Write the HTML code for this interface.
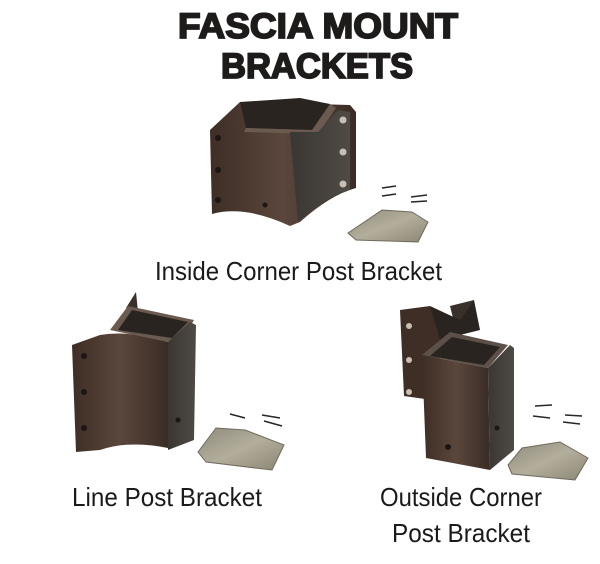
<!DOCTYPE html>
<html><head><style>
html,body{margin:0;padding:0;background:#fff;width:600px;height:564px;overflow:hidden}
svg{display:block}
.t{font-family:"Liberation Sans",Arial,sans-serif;font-weight:bold;font-size:35px;fill:#1e1b1b;stroke:#1e1b1b;stroke-width:1.8}
.l{font-family:"Liberation Sans Narrow","Liberation Sans",Arial,sans-serif;font-size:26px;fill:#1a1a1a}
</style></head><body>
<svg width="600" height="564" viewBox="0 0 600 564" xmlns="http://www.w3.org/2000/svg">
<defs>
<linearGradient id="br" x1="0" x2="1"><stop offset="0" stop-color="#3e2e26"/><stop offset=".5" stop-color="#5a463c"/><stop offset="1" stop-color="#3a2c25"/></linearGradient>
<linearGradient id="sd" x1="0" x2="1"><stop offset="0" stop-color="#3a3632"/><stop offset="1" stop-color="#4f4a44"/></linearGradient>
<linearGradient id="pl" x1="0" y1="0" x2="1" y2="1"><stop offset="0" stop-color="#8e8a7a"/><stop offset=".5" stop-color="#b3ae9c"/><stop offset="1" stop-color="#8b8574"/></linearGradient>
</defs>
<text class="t" x="178" y="38" textLength="280" lengthAdjust="spacingAndGlyphs">FASCIA MOUNT</text>
<text class="t" x="221" y="78" textLength="192" lengthAdjust="spacingAndGlyphs">BRACKETS</text>

<!-- Inside corner -->
<g>
<path d="M210 130 L240 102 L350 105 L356 112 L356 188 Q330 195 300 222 L290 226 Q245 205 212 214 Z" fill="url(#br)"/>
<path d="M240 102 L300 98 L330 104 L312 130 L246 128 Z" fill="#2a2420"/>
<path d="M246 128 L312 130 L330 104 L336 108 L318 134 L244 132 Z" fill="#6a5a50"/>
<path d="M290 132 L318 132 L338 110 L350 112 L350 190 Q320 200 298 222 Z" fill="url(#sd)"/>
<circle cx="218" cy="138" r="3" fill="#1c1614"/><circle cx="218" cy="170" r="3" fill="#1c1614"/><circle cx="218" cy="200" r="3" fill="#1c1614"/>
<circle cx="343" cy="120" r="3.5" fill="#c9c0b4"/><circle cx="343" cy="152" r="3.5" fill="#c9c0b4"/><circle cx="343" cy="184" r="3.5" fill="#c9c0b4"/>
<circle cx="265" cy="205" r="2.5" fill="#1c1614"/>
<path d="M348 233 L382 210 L412 212 L428 222 L418 242 L356 240 Z" fill="url(#pl)" stroke="#6f6a5c" stroke-width="1"/>
<g stroke="#2a2624" stroke-width="1.6"><line x1="382" y1="188" x2="396" y2="186"/><line x1="382" y1="196" x2="396" y2="194"/><line x1="411" y1="197" x2="427" y2="195"/><line x1="411" y1="202" x2="427" y2="201"/></g>
</g>
<text class="l" x="155" y="280" textLength="287" lengthAdjust="spacingAndGlyphs">Inside Corner Post Bracket</text>

<!-- Line post -->
<g>
<path d="M126 308 L136 292 L138 312 Z" fill="#3a302a"/>
<path d="M72 345 L100 335 Q130 330 168 342 L168 448 Q130 440 100 450 L76 452 Z" fill="url(#br)"/>
<path d="M110 330 L128 306 L194 320 L188 330 L168 342 Z" fill="#6a5a50"/>
<path d="M118 330 L132 310 L188 322 L172 338 Z" fill="#2a2420"/>
<path d="M168 342 L190 322 L196 325 L194 440 L168 450 Z" fill="url(#sd)"/>
<circle cx="84" cy="356" r="3" fill="#1c1614"/><circle cx="84" cy="392" r="3" fill="#1c1614"/><circle cx="84" cy="428" r="3" fill="#1c1614"/>
<circle cx="178" cy="420" r="2.5" fill="#1c1614"/>
<path d="M198 452 L216 428 L245 430 L284 445 L272 470 L206 462 Z" fill="url(#pl)" stroke="#6f6a5c" stroke-width="1"/>
<g stroke="#2a2624" stroke-width="1.6"><line x1="230" y1="414" x2="245" y2="418"/><line x1="262" y1="415" x2="280" y2="418"/><line x1="264" y1="421" x2="282" y2="426"/></g>
</g>
<text class="l" x="72" y="506" textLength="190" lengthAdjust="spacingAndGlyphs">Line Post Bracket</text>

<!-- Outside corner -->
<g>
<path d="M400 310 L430 306 Q440 320 445 330 L432 400 L404 396 Z" fill="#3e2e26"/>
<path d="M450 306 L474 300 L476 330 L456 330 Z" fill="#3a302a"/>
<path d="M430 306 L460 320 L474 300 L480 330 L440 340 Z" fill="#2a2420"/>
<path d="M422 355 L450 332 L508 345 L488 368 Z" fill="#5c5048"/>
<path d="M430 356 L452 337 L500 347 L484 365 Z" fill="#2a2420"/>
<path d="M422 355 L488 368 L490 470 L426 458 Z" fill="url(#br)"/>
<path d="M488 368 L510 345 L514 348 L514 450 L490 470 Z" fill="url(#sd)"/>
<circle cx="409" cy="326" r="3" fill="#c9c0b4"/><circle cx="409" cy="360" r="3" fill="#c9c0b4"/><circle cx="409" cy="392" r="3" fill="#c9c0b4"/>
<circle cx="448" cy="447" r="3" fill="#1c1614"/><circle cx="497" cy="428" r="2.5" fill="#1c1614"/>
<path d="M508 465 L522 448 L560 442 L588 458 L575 480 L512 474 Z" fill="url(#pl)" stroke="#6f6a5c" stroke-width="1"/>
<g stroke="#2a2624" stroke-width="1.6"><line x1="535" y1="406" x2="552" y2="405"/><line x1="533" y1="416" x2="550" y2="418"/><line x1="565" y1="415" x2="582" y2="416"/><line x1="563" y1="422" x2="580" y2="424"/></g>
</g>
<text class="l" x="380" y="506" textLength="162" lengthAdjust="spacingAndGlyphs">Outside Corner</text>
<text class="l" x="392" y="542" textLength="138" lengthAdjust="spacingAndGlyphs">Post Bracket</text>
</svg>
</body></html>
